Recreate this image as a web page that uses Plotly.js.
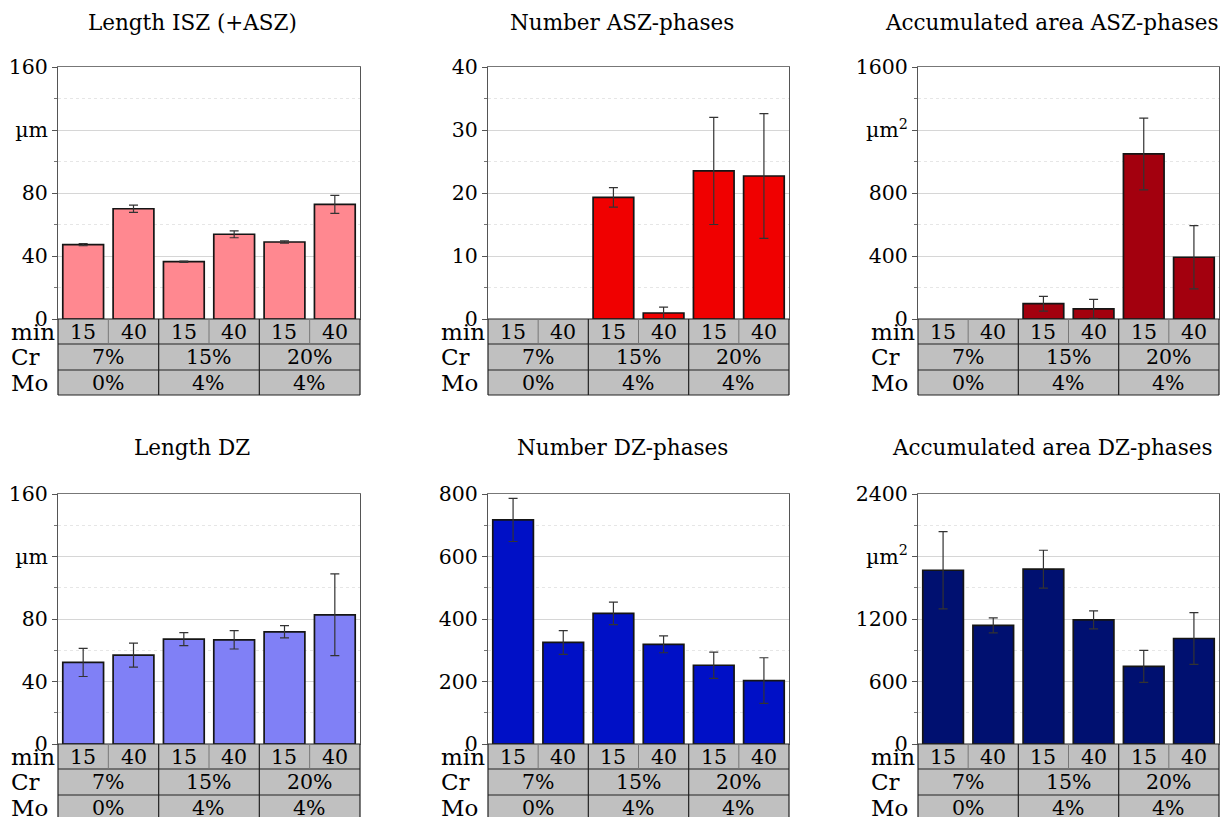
<!DOCTYPE html>
<html>
<head>
<meta charset="utf-8">
<script src="https://cdn.plot.ly/plotly-3.0.1.min.js"></script>
<style>
  html, body { margin: 0; padding: 0; background: #fff; }
  #chart { width: 1229px; height: 817px; }
</style>
</head>
<body>
<div id="chart"></div>
<script>
// Sample layout: heat-treatment time (min), chromium and molybdenum content
const minLabels = ['15', '40', '15', '40', '15', '40'];
const crLabels = ['7%', '15%', '20%'];
const moLabels = ['0%', '4%', '4%'];
const rowLabels = ['min', 'Cr', 'Mo'];

const panelTitles = [
  'Length ISZ (+ASZ)', 'Number ASZ-phases', 'Accumulated area ASZ-phases',
  'Length DZ', 'Number DZ-phases', 'Accumulated area DZ-phases'
];

// Measured means and standard deviations per sample
const lengthISZ = [47.2, 70.0, 36.4, 53.8, 48.9, 72.8];
const lengthISZErr = [0.7, 2.3, 0.4, 2.2, 0.7, 5.7];
const numberASZ = [null, null, 19.3, 0.95, 23.5, 22.7];
const numberASZErr = [null, null, 1.55, 0.95, 8.5, 9.9];
const areaASZ = [null, null, 97, 64, 1048, 392];
const areaASZErr = [null, null, 47, 60, 228, 201];
const lengthDZ = [52.2, 56.9, 67.1, 66.7, 71.8, 82.7];
const lengthDZErr = [9.0, 7.7, 4.2, 5.9, 3.9, 26.2];
const numberDZ = [717, 325, 418, 319, 252, 203];
const numberDZErr = [69, 38, 36, 27, 42, 73];
const areaDZ = [1668, 1138, 1678, 1192, 745, 1013];
const areaDZErr = [371, 72, 182, 86, 153, 248];

// Y axis ticks per panel
const tickValsLen = [0, 40, 80, 120, 160];
const tickTextLen = ['0', '40', '80', 'µm', '160'];
const tickValsNumASZ = [0, 10, 20, 30, 40];
const tickTextNumASZ = ['0', '10', '20', '30', '40'];
const tickValsAreaASZ = [0, 400, 800, 1200, 1600];
const tickTextAreaASZ = ['0', '400', '800', 'µm<sup>2</sup>', '1600'];
const tickValsNumDZ = [0, 200, 400, 600, 800];
const tickTextNumDZ = ['0', '200', '400', '600', '800'];
const tickValsAreaDZ = [0, 600, 1200, 1800, 2400];
const tickTextAreaDZ = ['0', '600', '1200', 'µm<sup>2</sup>', '2400'];

const W = 1229, H = 817;
const FONT = 'DejaVu Serif, Liberation Serif, serif';

const panels = [
  { y: lengthISZ, err: lengthISZErr, color: '#ff8890', range: [0, 160], tv: tickValsLen, tt: tickTextLen, minor: 20 },
  { y: numberASZ, err: numberASZErr, color: '#f00000', range: [0, 40], tv: tickValsNumASZ, tt: tickTextNumASZ, minor: 5 },
  { y: areaASZ, err: areaASZErr, color: '#a3000e', range: [0, 1600], tv: tickValsAreaASZ, tt: tickTextAreaASZ, minor: 200 },
  { y: lengthDZ, err: lengthDZErr, color: '#8080f6', range: [0, 160], tv: tickValsLen, tt: tickTextLen, minor: 20 },
  { y: numberDZ, err: numberDZErr, color: '#0010c6', range: [0, 800], tv: tickValsNumDZ, tt: tickTextNumDZ, minor: 100 },
  { y: areaDZ, err: areaDZErr, color: '#001070', range: [0, 2400], tv: tickValsAreaDZ, tt: tickTextAreaDZ, minor: 300 }
];

// Pixel geometry of the grid
const colLeft = [58, 488, 918];
const colRight = [360, 789, 1219];
const titleX = [192, 622, 1052];
const rowTop = [67, 494];
const rowBottom = [319, 744];
const titleY = [22, 447];
const tableRows = [0, 25, 51, 76];

const px = x => x / W;
const py = y => 1 - y / H;

const xs = [0, 1, 2, 3, 4, 5];
const traces = [];
const layout = {
  width: W, height: H,
  margin: { l: 0, r: 0, t: 0, b: 0 },
  paper_bgcolor: '#ffffff',
  plot_bgcolor: '#ffffff',
  showlegend: false,
  font: { family: FONT, color: '#000', size: 19 },
  shapes: [],
  annotations: []
};

panels.forEach((p, i) => {
  const col = i % 3, row = Math.floor(i / 3);
  const sfx = i === 0 ? '' : String(i + 1);
  const xa = 'x' + sfx, ya = 'y' + sfx;

  traces.push({
    type: 'bar', x: xs, y: p.y, xaxis: xa, yaxis: ya,
    width: 0.81,
    marker: { color: p.color, line: { color: '#151515', width: 1.7 } },
    error_y: { type: 'data', array: p.err, visible: true, color: '#333333', thickness: 1.2, width: 4.5 },
    hoverinfo: 'y'
  });

  layout['xaxis' + sfx] = {
    domain: [px(colLeft[col]), px(colRight[col])],
    anchor: ya, range: [-0.5, 5.5],
    showticklabels: false, ticks: '', showgrid: false, zeroline: false,
    showline: true, mirror: true, linecolor: '#777', linewidth: 1,
    fixedrange: true
  };
  layout['yaxis' + sfx] = {
    domain: [py(rowBottom[row]), py(rowTop[row])],
    anchor: xa, range: p.range,
    tickmode: 'array', tickvals: p.tv, ticktext: p.tt,
    ticks: 'outside', ticklen: 5, tickcolor: '#555',
    tickfont: { family: FONT, size: 20.5, color: '#000' },
    showgrid: true, gridcolor: '#d6d6d6', gridwidth: 1,
    zeroline: false,
    showline: true, mirror: true, linecolor: '#555', linewidth: 1,
    minor: {
      tickmode: 'linear', tick0: 0, dtick: p.minor,
      ticks: 'outside', ticklen: 3, tickcolor: '#777',
      showgrid: true, gridcolor: '#e6e6e6', griddash: 'dot', gridwidth: 1
    },
    fixedrange: true
  };

  // Panel title
  layout.annotations.push({
    xref: 'paper', yref: 'paper', x: px(titleX[col]), y: py(titleY[row]),
    xanchor: 'center', yanchor: 'middle', showarrow: false,
    text: panelTitles[i], font: { family: FONT, size: 21.5, color: '#000' }
  });

  // Sample table beneath the bars
  const xd = xa + ' domain';
  const base = rowBottom[row];
  const yTop = py(base + tableRows[0]);
  const yBot = py(base + tableRows[3]);
  layout.shapes.push({
    type: 'rect', xref: xd, yref: 'paper', x0: 0, x1: 1, y0: yBot, y1: yTop,
    fillcolor: '#c0c0c0', line: { width: 0 }, layer: 'above'
  });
  // row separators
  tableRows.forEach(r => {
    layout.shapes.push({
      type: 'line', xref: xd, yref: 'paper', x0: 0, x1: 1,
      y0: py(base + r), y1: py(base + r),
      line: { color: '#222', width: 1.2 }, layer: 'above'
    });
  });
  // time separators inside each alloy group
  [1, 3, 5].forEach(k => {
    layout.shapes.push({
      type: 'line', xref: xd, yref: 'paper', x0: k / 6, x1: k / 6,
      y0: py(base + tableRows[1]), y1: yTop,
      line: { color: '#777', width: 1 }, layer: 'above'
    });
  });
  // alloy group boundaries
  [0, 2, 4, 6].forEach(k => {
    layout.shapes.push({
      type: 'line', xref: xd, yref: 'paper', x0: k / 6, x1: k / 6,
      y0: yBot, y1: yTop,
      line: { color: '#222', width: 1.2 }, layer: 'above'
    });
  });

  const rowMid = j => py(base + (tableRows[j] + tableRows[j + 1]) / 2);
  minLabels.forEach((t, k) => {
    layout.annotations.push({
      xref: xd, yref: 'paper', x: (k + 0.5) / 6, y: rowMid(0),
      xanchor: 'center', yanchor: 'middle', showarrow: false,
      text: t, font: { family: FONT, size: 20.5, color: '#000' }
    });
  });
  crLabels.forEach((t, k) => {
    layout.annotations.push({
      xref: xd, yref: 'paper', x: (2 * k + 1) / 6, y: rowMid(1),
      xanchor: 'center', yanchor: 'middle', showarrow: false,
      text: t, font: { family: FONT, size: 20.5, color: '#000' }
    });
  });
  moLabels.forEach((t, k) => {
    layout.annotations.push({
      xref: xd, yref: 'paper', x: (2 * k + 1) / 6, y: rowMid(2),
      xanchor: 'center', yanchor: 'middle', showarrow: false,
      text: t, font: { family: FONT, size: 20.5, color: '#000' }
    });
  });
  rowLabels.forEach((t, j) => {
    layout.annotations.push({
      xref: 'paper', yref: 'paper', x: px(colLeft[col] - 49), y: rowMid(j),
      xanchor: 'left', yanchor: 'middle', showarrow: false,
      text: t, font: { family: FONT, size: 23, color: '#000' }
    });
  });
});

Plotly.newPlot('chart', traces, layout, { staticPlot: true, displayModeBar: false });
</script>
</body>
</html>
